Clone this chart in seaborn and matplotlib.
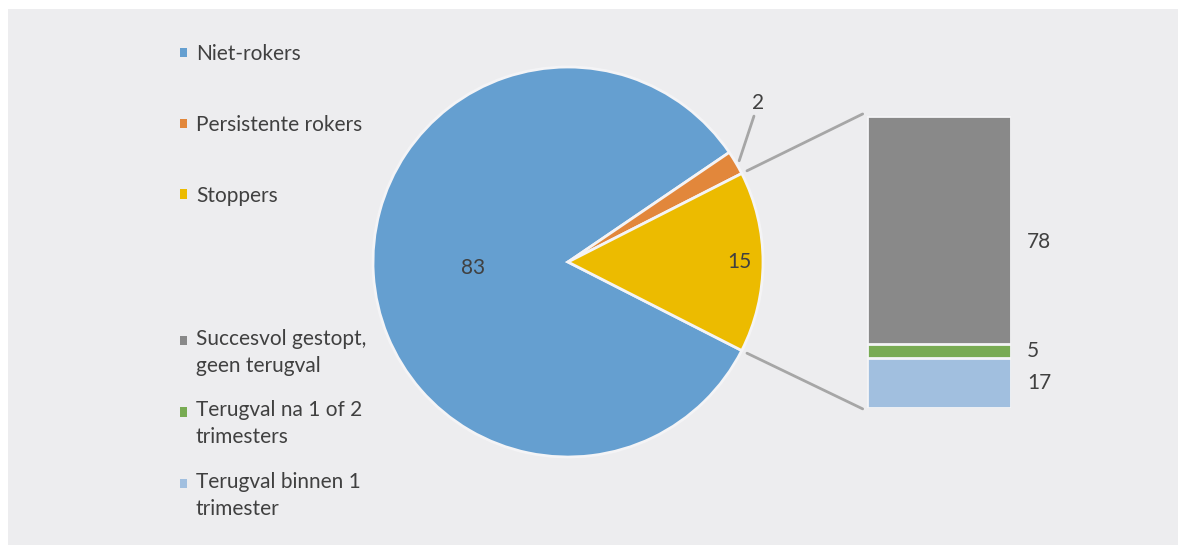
import matplotlib
matplotlib.use("Agg")
import matplotlib.pyplot as plt
import numpy as np
import pandas as pd
import seaborn as sns
from matplotlib.patches import ConnectionPatch, Patch, Rectangle

# pie: smoking status (%)
pie_labels = ["Niet-rokers", "Persistente rokers", "Stoppers"]
pie_values = [83, 2, 15]

# bar: outcome of the stoppers (%)
bar_labels = ["Succesvol gestopt,\ngeen terugval", "Terugval na 1 of 2\ntrimesters", "Terugval binnen 1\ntrimester"]
bar_values = [78, 5, 17]

pie_colors = ["#659FD0", "#E2873B", "#ECBB00"]
bar_colors = ["#898989", "#78AB53", "#A1BFDF"]
bg = "#EDEDEF"
sep = "#F4F4F6"
txt = "#404040"
fs = 15

sns.set_theme(style="white")
plt.rcParams["font.family"] = ["Lato", "DejaVu Sans"]

fig = plt.figure(figsize=(11.79, 5.46), dpi=100, facecolor="white")
fig.patches.append(Rectangle((8 / 1179, 1 / 546), 1170 / 1179, 536 / 546,
                             transform=fig.transFigure, facecolor=bg, edgecolor="none", zorder=-10))

# ---- pie ----
ax_pie = fig.add_axes([373 / 1179, 89 / 546, 390 / 1179, 390 / 546])
ax_pie.set_facecolor("none")
wedges, _ = ax_pie.pie(pie_values, colors=pie_colors, startangle=-27, counterclock=False,
                       wedgeprops=dict(edgecolor=sep, linewidth=2))
ax_pie.set_xlim(-1, 1)
ax_pie.set_ylim(-1, 1)
ax_pie.set_aspect("equal")
ax_pie.axis("off")

mid = [np.deg2rad((w.theta1 + w.theta2) / 2) for w in wedges]
label_r = [0.49, None, 0.88]
for i, val in enumerate(pie_values):
    a = mid[i]
    if label_r[i] is None:
        ax_pie.annotate(str(val), xy=(1.02 * np.cos(a), 1.02 * np.sin(a)),
                        xytext=(0.945, 0.765), ha="left", va="bottom", fontsize=fs, color=txt,
                        arrowprops=dict(arrowstyle="-", color="#A6A6A6", lw=2, shrinkA=0, shrinkB=0),
                        annotation_clip=False)
    else:
        ax_pie.text(label_r[i] * np.cos(a), label_r[i] * np.sin(a), str(val),
                    ha="center", va="center", fontsize=fs, color=txt)

# ---- stacked bar (drawn as overlapping cumulative bars) ----
ax_bar = fig.add_axes([867 / 1179, 138 / 546, 144 / 1179, 292 / 546])
ax_bar.set_facecolor("none")
cum_top = np.cumsum(bar_values[::-1])[::-1]  # 100, 22, 17
for i in range(len(bar_values)):
    sns.barplot(x=[0], y=[cum_top[i]], color=bar_colors[i], width=1, saturation=1,
                edgecolor=sep, linewidth=2, ax=ax_bar)
ax_bar.set_xlim(-0.5, 0.5)
ax_bar.set_ylim(0, 100)
ax_bar.axis("off")
for i, val in enumerate(bar_values):
    y = cum_top[i] - val / 2
    if i == 0:
        y -= 4  # excel puts this one a bit lower
    ax_bar.text(1.11, y, str(val), transform=ax_bar.get_yaxis_transform(),
                ha="left", va="center", fontsize=fs, color=txt)

# connector lines from stoppers wedge to bar
ang = np.deg2rad(27)
for sign, yb in [(1, 1.007), (-1, -0.003)]:
    con = ConnectionPatch(xyA=(1.03 * np.cos(ang), sign * 1.03 * np.sin(ang)), coordsA=ax_pie.transData,
                          xyB=(-0.03, yb), coordsB=ax_bar.transAxes, color="#A6A6A6", lw=2)
    fig.add_artist(con)

# ---- legends ----
leg_kw = dict(loc="upper left", frameon=False, fontsize=fs, labelcolor=txt,
              handlelength=0.34, handleheight=0.34, handletextpad=0.42, borderpad=0, borderaxespad=0)
h1 = [Patch(facecolor=c, edgecolor="none") for c in pie_colors]
fig.legend(h1, pie_labels, bbox_to_anchor=(180 / 1179, 1 - 44 / 546), labelspacing=2.44, **leg_kw)
h2 = [Patch(facecolor=c, edgecolor="none") for c in bar_colors]
leg2 = fig.legend(h2, bar_labels, bbox_to_anchor=(180 / 1179, 1 - 329 / 546), labelspacing=1.18, **leg_kw)
for t in leg2.get_texts():
    t.set_linespacing(1.43)
# put the marker next to the first line, like excel does
for h in leg2.legend_handles:
    h.set_y(h.get_y() + 9)

fig.savefig("out.png", dpi=100, facecolor="white")
